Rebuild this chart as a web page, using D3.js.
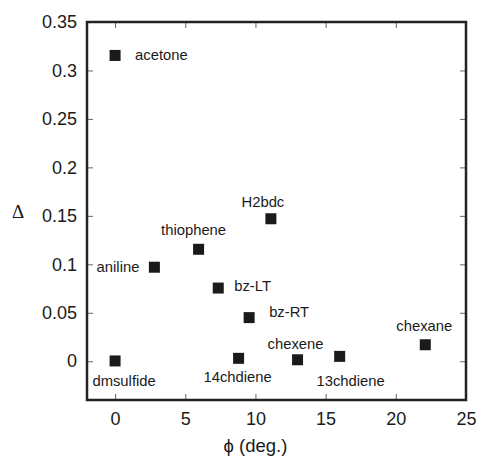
<!DOCTYPE html>
<html lang="en">
<head>
  <meta charset="UTF-8">
  <script src="https://d3js.org/d3.v7.min.js"></script>
  <title>Delta vs phi</title>
  <style>
    body { margin: 0; background: #fff; }
    text { font-family: "Liberation Sans", Arial, sans-serif; fill: #1a1a1a; }
  </style>
</head>
<body>
<div id="chart"></div>
<script>

// data
var names  = ["acetone", "aniline", "thiophene", "H2bdc", "bz-LT", "bz-RT",
              "dmsulfide", "14chdiene", "chexene", "13chdiene", "chexane"];
var phi    = [0, 2.8, 5.95, 11.1, 7.35, 9.55, 0, 8.8, 13.0, 16.0, 22.1];
var delta  = [0.3155, 0.097, 0.1155, 0.147, 0.0755, 0.045, 0.0003, 0.003, 0.0015, 0.005, 0.017];
var xTicks = [0, 5, 10, 15, 20, 25];
var yTicks = [0, 0.05, 0.1, 0.15, 0.2, 0.25, 0.3, 0.35];

// label placement relative to marker (px): dx, dy, anchor
var labelPos = {
  "acetone":   [20, 5, "start"],
  "aniline":   [-15, 5, "end"],
  "thiophene": [-5, -14, "middle"],
  "H2bdc":     [-8, -12, "middle"],
  "bz-LT":     [16, 3, "start"],
  "bz-RT":     [20, -1, "start"],
  "dmsulfide": [9, 25, "middle"],
  "14chdiene": [-1, 24, "middle"],
  "chexene":   [-2, -11, "middle"],
  "13chdiene": [11, 30, "middle"],
  "chexane":   [-1, -14, "middle"]
};

var W = 478, H = 457;
var margin = {top: 22, right: 12, bottom: 57, left: 87};
var width = W - margin.left - margin.right,
    height = H - margin.top - margin.bottom;

var svg = d3.select("#chart").append("svg")
    .attr("width", W)
    .attr("height", H);

var g = svg.append("g")
    .attr("transform", "translate(" + margin.left + "," + margin.top + ")");

var x = d3.scaleLinear().domain([-2, 25]).range([0, width]);
var y = d3.scaleLinear().domain([-0.04, 0.35]).range([height, 0]);

var fmtY = function(d) { return d === 0 ? "0" : String(+d.toFixed(2)); };

// inward ticks on all four sides
function styleAxis(sel) {
  sel.select(".domain").remove();
  sel.selectAll(".tick line").attr("stroke", "#666").attr("stroke-width", 1);
  sel.selectAll(".tick text").style("font-size", "18px").attr("fill", "#1a1a1a");
}

g.append("g")
  .attr("transform", "translate(0," + height + ")")
  .call(d3.axisBottom(x).tickValues(xTicks).tickSizeInner(-6).tickPadding(12).tickFormat(d3.format("d")))
  .call(styleAxis);

g.append("g")
  .call(d3.axisTop(x).tickValues(xTicks).tickSizeInner(-6).tickFormat(""))
  .call(styleAxis);

g.append("g")
  .call(d3.axisLeft(y).tickValues(yTicks).tickSizeInner(-6).tickPadding(10).tickFormat(fmtY))
  .call(styleAxis);

g.append("g")
  .attr("transform", "translate(" + width + ",0)")
  .call(d3.axisRight(y).tickValues(yTicks).tickSizeInner(-6).tickFormat(""))
  .call(styleAxis);

// frame
g.append("rect")
  .attr("width", width)
  .attr("height", height)
  .attr("fill", "none")
  .attr("stroke", "#222")
  .attr("stroke-width", 2.5);

var pts = names.map(function(n, i) { return {name: n, phi: phi[i], delta: delta[i]}; });

var s = 11;
g.selectAll("rect.pt")
  .data(pts)
  .enter().append("rect")
    .attr("class", "pt")
    .attr("x", function(d) { return x(d.phi) - s / 2; })
    .attr("y", function(d) { return y(d.delta) - s / 2; })
    .attr("width", s)
    .attr("height", s)
    .attr("fill", "#1a1a1a");

g.selectAll("text.lbl")
  .data(pts)
  .enter().append("text")
    .attr("class", "lbl")
    .attr("x", function(d) { return x(d.phi) + labelPos[d.name][0]; })
    .attr("y", function(d) { return y(d.delta) + labelPos[d.name][1]; })
    .attr("text-anchor", function(d) { return labelPos[d.name][2]; })
    .style("font-size", "14.8px")
    .text(function(d) { return d.name; });

// axis titles
svg.append("text")
  .attr("x", margin.left + x(10))
  .attr("y", 452)
  .attr("text-anchor", "middle")
  .style("font-size", "18.5px")
  .text("\u03d5 (deg.)");

svg.append("text")
  .attr("x", 18)
  .attr("y", 218)
  .attr("text-anchor", "middle")
  .style("font-family", "'Liberation Serif', serif")
  .style("font-size", "19px")
  .text("\u0394");

</script>
</body>
</html>
